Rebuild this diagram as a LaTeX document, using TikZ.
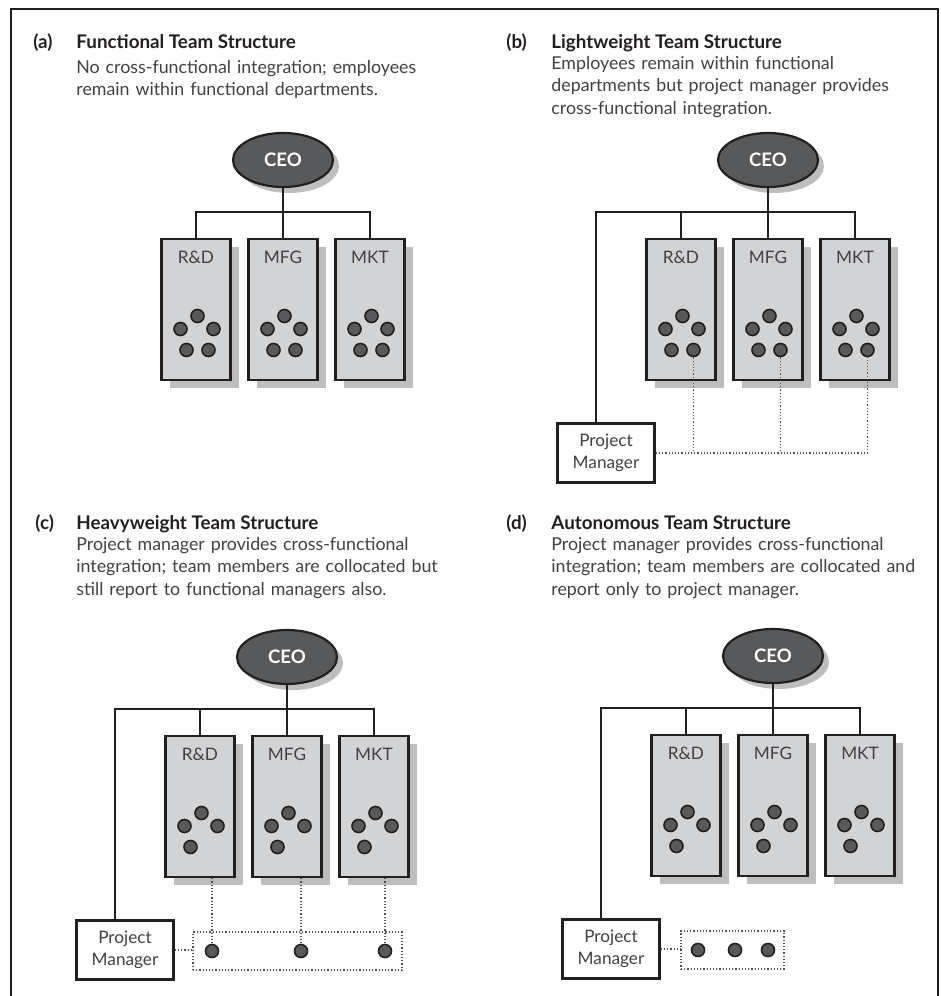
\documentclass[tikz,border=0pt]{standalone}
\usepackage{fontspec}
\setmainfont{Lato}
\usetikzlibrary{positioning,shapes.geometric,shadows,calc}
\definecolor{ink}{RGB}{35,31,32}
\definecolor{slate}{RGB}{88,89,91}
\definecolor{panel}{RGB}{209,211,212}
\definecolor{shade}{RGB}{188,190,192}
\definecolor{prose}{RGB}{65,64,66}
\newcommand{\bodyfont}{\fontsize{8.9}{11.25}\selectfont}
\newcommand{\unitfont}{\fontsize{8.6}{11}\selectfont}
\newcommand{\headfont}{\fontsize{9.4}{11.25}\selectfont\bfseries}

\begin{document}
\begin{tikzpicture}[x=0.5pt,y=-0.5pt,
    ceo/.style={ellipse,draw=ink,line width=1.1pt,fill=slate,inner sep=0pt,
      minimum width=50pt,minimum height=27pt,text=white,font=\fontsize{9.3}{11}\selectfont\bfseries,
      drop shadow={fill=shade,opacity=1,shadow xshift=3pt,shadow yshift=-3pt}},
    dept/.style={draw=ink,line width=1.2pt,fill=panel,inner sep=0pt,
      minimum width=34.5pt,minimum height=70.5pt,
      drop shadow={fill=shade,opacity=1,shadow xshift=4pt,shadow yshift=-4pt}},
    member/.style={circle,draw=ink,line width=0.8pt,fill=slate,inner sep=0pt,minimum size=6.5pt},
    manager/.style={draw=ink,line width=1.2pt,fill=white,inner sep=0pt,align=center,
      minimum width=48.5pt,minimum height=29.5pt,text=prose,font=\unitfont},
    team/.style={draw=ink!80,line width=0.6pt,dash pattern=on 0.6pt off 1pt,inner sep=0pt,minimum height=19pt},
    link/.style={draw=ink,line width=1.1pt},
    report/.style={draw=ink!80,line width=0.6pt,dash pattern=on 0.6pt off 1pt}]
  \useasboundingbox (0,0) rectangle (941,996);
  \draw[link] (11,996) -- (11,9) -- (938,9) -- (938,996);

  % headings
  \foreach \pan/\lx/\tx/\ty/\by/\head/\body in {
    a/33/76/48/73/Functional Team Structure/{No cross-functional integration; employees\\remain within functional departments.},
    b/506/551/48/69/Lightweight Team Structure/{Employees remain within functional\\departments but project manager provides\\cross-functional integration.},
    c/35/76/529/550/Heavyweight Team Structure/{Project manager provides cross-functional\\integration; team members are collocated but\\still report to functional managers also.},
    d/506/551/529/550/Autonomous Team Structure/{Project manager provides cross-functional\\integration; team members are collocated and\\report only to project manager.}}{
    \node[anchor=base west,inner sep=0pt,font=\headfont,text=ink] (tag\pan) at (\lx,\ty) {(\pan)};
    \node[anchor=base west,inner sep=0pt,font=\headfont,text=ink] (head\pan) at (\tx,\ty) {\head};
    \node[anchor=base west,inner sep=0pt,font=\bodyfont,text=prose,text width=200pt,align=left] (body\pan) at (\tx,\by) {\body};
  }

  % ceo, departments and their members
  \foreach \pan/\cx/\cy in {a/283/160,b/768/160,c/287/657,d/773/656}{
    \node[ceo] (ceo\pan) at (\cx,\cy) {CEO};
    \coordinate (bus\pan) at (\cx,\cy+52);
    \foreach \unit/\dx [count=\k] in {R\&D/-87,MFG/0,MKT/87}{
      \node[dept] (dept\pan\k) at (\cx+\dx,\cy+149.5) {};
      \node[inner sep=0pt,font=\unitfont,text=prose] (unit\pan\k) at (\cx+\dx,\cy+97) {\unit};
      \foreach \mx/\my [count=\m] in {1.5/156,-15.5/169,17.5/169,-9.5/190}
        \node[member] (m\pan\k\m) at (\cx+\dx+\mx,\cy+\my) {};
    }
    \draw[link] (ceo\pan) -- (dept\pan2);
    \draw[link] (dept\pan1) -- (dept\pan1 |- bus\pan) -- (dept\pan3 |- bus\pan) -- (dept\pan3);
  }
  % fifth member still sits in its department
  \foreach \pan in {a,b}
    \foreach \k in {1,2,3}
      \node[member] (m\pan\k5) at ($(dept\pan\k.center)+(12.5,40.5)$) {};

  % project managers
  \foreach \pan/\cx/\cy in {b/768/160,c/287/657,d/773/656}{
    \node[manager] (pm\pan) at (\cx-162,\cy+293) {Project\\Manager};
    \coordinate (elbow\pan) at (\cx-172,\cy+52);
    \draw[link] (dept\pan1 |- bus\pan) -- (elbow\pan) -- (elbow\pan |- pm\pan.north);
  }

  % (b) lightweight
  \draw[report] (pmb) -- (pmb -| mb35) -- (mb35);
  \draw[report] (mb15) -- (mb15 |- pmb);
  \draw[report] (mb25) -- (mb25 |- pmb);

  % (c) heavyweight
  \node[team,minimum width=104.5pt] (teamc) at (297.5,951) {};
  \foreach \k/\tx in {1/212,2/301,3/385}{
    \node[member] (tc\k) at (\tx,951) {};
    \draw[report] (tc\k |- deptc\k.south) -- (tc\k);
  }
  \draw[report] (pmc) -- (pmc -| teamc.west);

  % (d) autonomous
  \node[team,minimum width=51.5pt] (teamd) at (732.5,950) {};
  \foreach \k/\tx in {1/698,2/735,3/768}
    \node[member] (td\k) at (\tx,950) {};
  \draw[report] (pmd) -- (pmd -| teamd.west);
\end{tikzpicture}
\end{document}
